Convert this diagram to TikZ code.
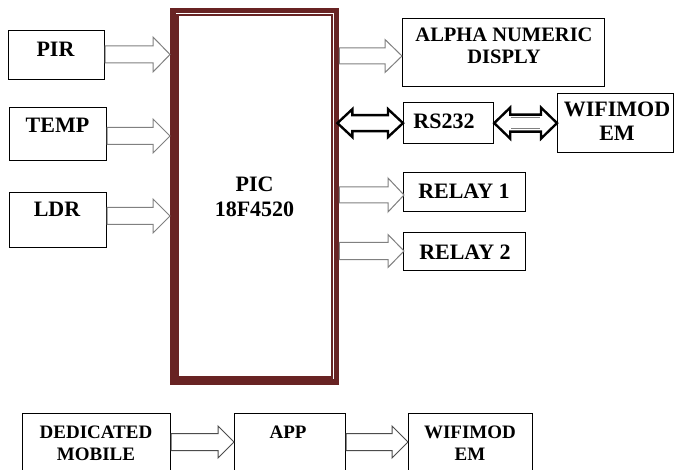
\documentclass[tikz,border=0pt]{standalone}
\usepackage{fontspec}
\setmainfont{Liberation Serif}
\usetikzlibrary{calc}
\definecolor{brn}{RGB}{104,35,35}
\tikzset{
  box/.style={draw=black, line width=1.2pt, fill=white, inner sep=0pt, anchor=north west},
  big/.style={font=\bfseries\fontsize{22}{24}\selectfont, inner sep=0pt, anchor=base, align=center},
  small/.style={font=\bfseries\fontsize{19}{22}\selectfont, inner sep=0pt, anchor=base, align=center},
  hollow/.style={draw=gray, line width=1pt, fill=white, line join=miter},
  hollowdk/.style={draw=black!70, line width=1pt, fill=white, line join=miter},
  dbl/.style={draw=black, line width=2.4pt, fill=white, line join=miter},
}
% #2 start, #3 tip, #4 shaft half, #5 head half, #6 head length
\newcommand{\harr}[6][hollow]{%
  \path[#1] let \p1=(#2), \p2=(#3) in
    (\x1,{\y2+#4}) -- ({\x2-#6},{\y2+#4}) -- ({\x2-#6},{\y2+#5}) -- (\x2,\y2)
    -- ({\x2-#6},{\y2-#5}) -- ({\x2-#6},{\y2-#4}) -- (\x1,{\y2-#4}) -- cycle;}
% #2 left tip, #3 right tip, #4 shaft half, #5 head half, #6 head length
\newcommand{\darr}[6][dbl]{%
  \path[#1] let \p1=(#2), \p2=(#3) in
    (\x1,\y1) -- ({\x1+#6},{\y1+#5}) -- ({\x1+#6},{\y1+#4}) -- ({\x2-#6},{\y1+#4})
    -- ({\x2-#6},{\y1+#5}) -- (\x2,\y1) -- ({\x2-#6},{\y1-#5}) -- ({\x2-#6},{\y1-#4})
    -- ({\x1+#6},{\y1-#4}) -- ({\x1+#6},{\y1-#5}) -- cycle;}
\begin{document}
\begin{tikzpicture}[x=1pt,y=-1pt]
\useasboundingbox (0,0) rectangle (674,470);
\clip (0,0) rectangle (674,470);
\fill[white] (0,0) rectangle (674,470);

% PIC frame
\node[inner sep=0pt, minimum width=169pt, minimum height=377pt, anchor=north west] (pic) at (170,8) {};
\fill[brn] (pic.north west) rectangle (pic.south east);
\fill[white] (179,16) rectangle (331,376);
\draw[white, line width=1.3pt] (176,13.5) -- (333.6,13.5) -- (333.6,378.5);
\node[big] (picl) at (254.5,217) {PIC\\[1pt]18F4520};

% input boxes
\node[box, minimum width=96pt, minimum height=49pt] (pir) at (8,30) {};
\node[box, minimum width=97pt, minimum height=53pt] (temp) at (9,107) {};
\node[box, minimum width=97pt, minimum height=55pt] (ldr) at (9,192) {};
\node[big] (pirl) at (55.5,57) {PIR};
\node[big] (templ) at (57.5,133) {TEMP};
\node[big] (ldrl) at (57,217) {LDR};

% output boxes
\node[box, minimum width=202pt, minimum height=68pt] (alpha) at (402,18) {};
\node[box, minimum width=90pt, minimum height=41pt] (rs) at (403,102) {};
\node[box, minimum width=116pt, minimum height=59pt] (wifi) at (557,93) {};
\node[box, minimum width=122pt, minimum height=39pt] (r1) at (403,172) {};
\node[box, minimum width=122pt, minimum height=38pt] (r2) at (403,232) {};
\node[big, font=\bfseries\fontsize{20.5}{24}\selectfont] (alphal) at (504,64) {ALPHA NUMERIC\\[-2pt]DISPLY};
\node[big] (rsl) at (444,129) {RS232};
\node[big] (wifil) at (617,141) {WIFIMOD\\EM};
\node[big] (r1l) at (464,199) {RELAY 1};
\node[big] (r2l) at (465,259) {RELAY 2};

% bottom row
\node[box, minimum width=148pt, minimum height=80pt] (dm) at (22,413) {};
\node[box, minimum width=111pt, minimum height=80pt] (app) at (234,413) {};
\node[box, minimum width=124pt, minimum height=80pt] (wifib) at (408,413) {};
\node[small] (dml) at (96,460) {DEDICATED\\MOBILE};
\node[small] (appl) at (288,438) {APP};
\node[small] (wifibl) at (470,460) {WIFIMOD\\EM};

% tip coordinates
\coordinate (t1) at (pic.west |- 0,54.5);
\coordinate (t2) at (pic.west |- 0,136);
\coordinate (t3) at (pic.west |- 0,216);
\coordinate (t4) at (alpha.west |- 0,56);
\coordinate (t5) at (404,195);
\coordinate (t6) at (404,251);
\coordinate (t7) at (app.west |- 0,442);
\coordinate (t8) at (wifib.west |- 0,442);
\coordinate (dl) at ($(pic.east |- rs.west)+(-2,0)$);

% hollow arrows
\harr{pir.east}{t1}{8.5pt}{17.5pt}{17pt}
\harr{temp.east}{t2}{8.5pt}{17pt}{17pt}
\harr{ldr.east}{t3}{8.5pt}{17pt}{17pt}
\harr{pic.east}{t4}{8pt}{16.5pt}{17pt}
\harr{pic.east}{t5}{8pt}{17pt}{16pt}
\harr{pic.east}{t6}{8.5pt}{16.5pt}{16pt}
\harr[hollowdk]{dm.east}{t7}{8.5pt}{16pt}{16pt}
\harr[hollowdk]{app.east}{t8}{8.5pt}{16pt}{16pt}

% double arrows
\darr{dl}{rs.west}{8pt}{14pt}{15pt}
\darr{rs.east}{wifi.west}{8.5pt}{15.5pt}{16pt}
\draw[gray, line width=1.6pt] ($(rs.east)+(17,-5.5)$) -- ($(wifi.west)+(-17,-5.5)$);
\draw[gray, line width=1.6pt] ($(rs.east)+(17,5.5)$) -- ($(wifi.west)+(-17,5.5)$);
\end{tikzpicture}
\end{document}
